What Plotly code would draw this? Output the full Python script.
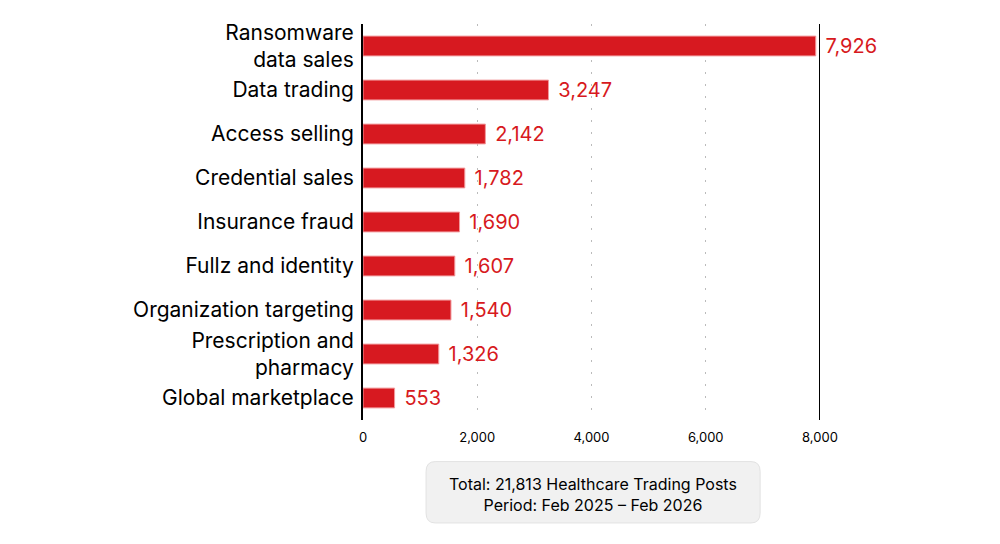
import plotly.graph_objects as go

# data
categories = ["Ransomware<br>data sales", "Data trading", "Access selling", "Credential sales",
              "Insurance fraud", "Fullz and identity", "Organization targeting",
              "Prescription and<br>pharmacy", "Global marketplace"]
posts = [7926, 3247, 2142, 1782, 1690, 1607, 1540, 1326, 553]
tick_vals = [0, 2000, 4000, 6000, 8000]

RED = "#D71920"
FONT = "Inter, Noto Sans, sans-serif"

fig = go.Figure(go.Bar(
    y=categories, x=posts, orientation="h",
    marker=dict(color=RED, line=dict(color="#F29A9D", width=1)),
    text=["\u2005\u200a" + f"{v:,}" for v in posts], textposition="outside",
    textfont=dict(color=RED, size=20, family=FONT), constraintext="none",
    cliponaxis=False, width=0.45,
))

# page has an 8px body margin, so margins are shifted to land the plot where it should
fig.update_layout(
    width=1000, height=544,
    margin=dict(l=355, r=188, t=12, b=132),
    plot_bgcolor="white", paper_bgcolor="white",
    showlegend=False,
    font=dict(family=FONT, color="black"),
)
fig.update_xaxes(range=[0, 8000], tickvals=tick_vals, tickformat=",",
                 showgrid=True, gridcolor="#BBBBBB", griddash="2px,10px", gridwidth=1,
                 zeroline=False, showline=False, ticks="", ticklabelstandoff=8,
                 tickfont=dict(size=13, family=FONT))
fig.update_yaxes(autorange="reversed", showline=True, linecolor="black", linewidth=2,
                 ticks="", ticklabelstandoff=3, tickfont=dict(size=21, family=FONT))

# vertical line at 8,000
fig.add_shape(type="line", xref="x", yref="paper", x0=8000, x1=8000, y0=0, y1=1,
              line=dict(color="black", width=2))

# rounded info box below the chart
x0, x1, y0, y1 = 0.138, 0.869, -0.105, -0.26
rx, ry = 0.02, 0.025
path = (f"M {x0+rx},{y0} L {x1-rx},{y0} Q {x1},{y0} {x1},{y0-ry} "
        f"L {x1},{y1+ry} Q {x1},{y1} {x1-rx},{y1} L {x0+rx},{y1} "
        f"Q {x0},{y1} {x0},{y1+ry} L {x0},{y0-ry} Q {x0},{y0} {x0+rx},{y0} Z")
fig.add_shape(type="path", xref="paper", yref="paper", path=path,
              fillcolor="#F1F1F1", line=dict(color="#E2E2E2", width=1))
fig.add_annotation(xref="paper", yref="paper", x=(x0 + x1) / 2, y=(y0 + y1) / 2 - 0.005,
                   xanchor="center", yanchor="middle",
                   text="Total: 21,813 Healthcare Trading Posts<br>Period: Feb 2025 – Feb 2026",
                   showarrow=False, font=dict(size=16, family=FONT, color="black"))

fig.write_html("out.html")
